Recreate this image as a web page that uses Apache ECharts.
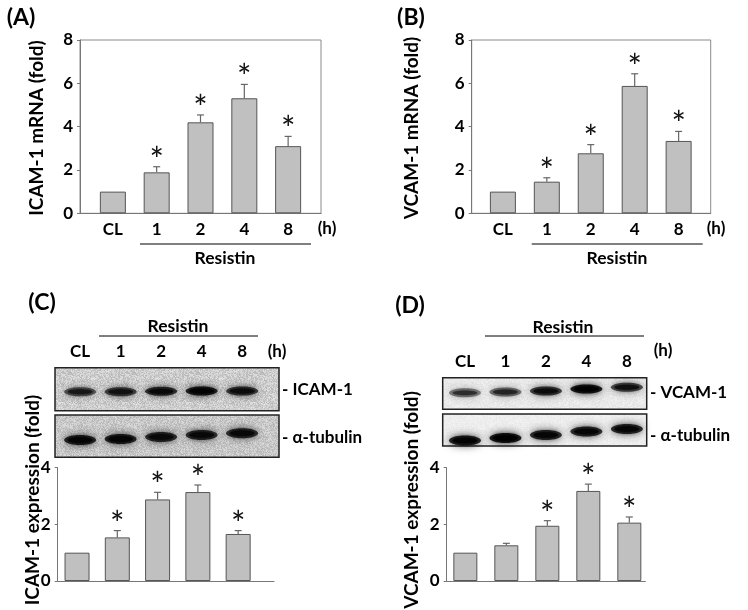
<!DOCTYPE html>
<html><head><meta charset="utf-8">
<script src="https://cdn.jsdelivr.net/npm/echarts@6/dist/echarts.min.js"></script>
<style>html,body{margin:0;padding:0;background:#fff}#c{width:748px;height:610px}</style>
</head><body><div id="c"></div>
<script>
// ---------- data ----------
const categories = ['CL', '1', '2', '4', '8'];
const mrnaTicks = [0, 2, 4, 6, 8];
const protTicks = [0, 2, 4];
const icamMrna = [1, 1.89, 4.2, 5.31, 3.1];
const icamMrnaErr = [0, 0.26, 0.34, 0.64, 0.45];
const vcamMrna = [1, 1.46, 2.77, 5.88, 3.34];
const vcamMrnaErr = [0, 0.18, 0.4, 0.56, 0.44];
const icamProt = [1, 1.54, 2.88, 3.14, 1.66];
const icamProtErr = [0, 0.24, 0.25, 0.25, 0.12];
const vcamProt = [1, 1.26, 1.95, 3.18, 2.06];
const vcamProtErr = [0, 0.07, 0.18, 0.24, 0.2];
const sigA = [0, 1, 1, 1, 1];
const sigB = [0, 1, 1, 1, 1];
const sigC = [0, 1, 1, 1, 1];
const sigD = [0, 0, 1, 1, 1];
const bandIcam = [0.6, 0.72, 0.85, 0.95, 0.78];
const bandTubC = [0.92, 0.92, 0.85, 0.85, 0.85];
const bandVcam = [0.4, 0.48, 0.78, 1.0, 0.72];
const bandTubD = [0.95, 1.0, 0.88, 0.88, 0.9];

// ---------- style ----------
const FONT = 'Lato, "DejaVu Sans", sans-serif';
const AXC = '#777';
const chart = echarts.init(document.getElementById('c'), null, {renderer: 'canvas'});

// deterministic grain texture for film background
function grain(base, amp) {
  const cv = document.createElement('canvas');
  cv.width = 64; cv.height = 64;
  const ctx = cv.getContext('2d');
  const img = ctx.createImageData(64, 64);
  let s = 12345;
  for (let k = 0; k < 64 * 64; k++) {
    s = (s * 1103515245 + 12345) & 0x7fffffff;
    const g = base + ((s >> 8) % (2 * amp + 1)) - amp;
    img.data[4 * k] = g; img.data[4 * k + 1] = g; img.data[4 * k + 2] = g; img.data[4 * k + 3] = 255;
  }
  ctx.putImageData(img, 0, 0);
  return {image: cv, repeat: 'repeat'};
}

const grids = [
  {left: 80, top: 40, width: 241, height: 173.3, show: true, borderColor: '#8a8a8a', borderWidth: 1},
  {left: 471.7, top: 40, width: 239, height: 173.3, show: true, borderColor: '#8a8a8a', borderWidth: 1},
  {left: 57.7, top: 467.7, width: 216.3, height: 113.3},
  {left: 446.7, top: 467.7, width: 198.6, height: 113.3},
  {left: 55, top: 367.7, width: 224, height: 43, show: true, backgroundColor: grain(205, 22), borderColor: '#222', borderWidth: 1.5},
  {left: 55, top: 415, width: 224, height: 42.3, show: true, backgroundColor: grain(200, 20), borderColor: '#222', borderWidth: 1.5},
  {left: 442.7, top: 377.7, width: 204, height: 31.6, show: true, backgroundColor: grain(234, 8), borderColor: '#222', borderWidth: 1.5},
  {left: 442.7, top: 414, width: 204, height: 32, show: true, backgroundColor: grain(238, 6), borderColor: '#222', borderWidth: 1.5}
];

function barX(gi, min, max, showLabels) {
  return {
    type: 'value', gridIndex: gi, min: min, max: max,
    axisLine: {show: true, onZero: false, lineStyle: {color: AXC, width: 1}},
    axisTick: {show: false}, splitLine: {show: false},
    axisLabel: showLabels ? {
      show: true, customValues: [0, 1, 2, 3, 4], margin: 8,
      formatter: v => categories[Math.round(v)],
      fontFamily: FONT, fontWeight: 'bold', fontSize: 17, color: '#000'
    } : {show: false}
  };
}
function barY(gi, ticks) {
  return {
    type: 'value', gridIndex: gi, min: ticks[0], max: ticks[ticks.length - 1],
    interval: ticks[1] - ticks[0],
    axisLine: {show: true, onZero: false, lineStyle: {color: AXC, width: 1}},
    axisTick: {show: true, length: 3, inside: false, lineStyle: {color: AXC}},
    splitLine: {show: false},
    axisLabel: {margin: 7, fontFamily: FONT, fontWeight: 'bold', fontSize: 17, color: '#000'}
  };
}
function blotX(gi, min, max, topLabels) {
  return {
    type: 'value', gridIndex: gi, min: min, max: max, position: 'top',
    axisLine: {show: false, onZero: false}, axisTick: {show: false}, splitLine: {show: false},
    axisLabel: topLabels ? {
      show: true, customValues: [0, 1, 2, 3, 4], margin: 8,
      formatter: v => categories[Math.round(v)],
      fontFamily: FONT, fontWeight: 'bold', fontSize: 17, color: '#000'
    } : {show: false}
  };
}
function blotY(gi) {
  return {type: 'value', gridIndex: gi, min: 0, max: 1, show: false, axisLine: {onZero: false}};
}

const xAxes = [
  barX(0, -0.75, 4.75, true), barX(1, -0.71, 4.73, true),
  barX(2, -0.48, 4.89, false), barX(3, -0.455, 4.39, false),
  blotX(4, -0.62, 4.91, true), blotX(5, -0.62, 4.91, false),
  blotX(6, -0.55, 4.49, true), blotX(7, -0.55, 4.49, false)
];
const yAxes = [
  barY(0, mrnaTicks), barY(1, mrnaTicks), barY(2, protTicks), barY(3, protTicks),
  blotY(4), blotY(5), blotY(6), blotY(7)
];

function bars(gi, vals, w) {
  return {
    type: 'bar', xAxisIndex: gi, yAxisIndex: gi, barWidth: w,
    data: vals.map((v, i) => [i, v]),
    itemStyle: {color: '#c0c0c0', borderColor: '#555', borderWidth: 1},
    silent: true, z: 2
  };
}
function errs(gi, vals, e, sig, gap) {
  return {
    type: 'custom', xAxisIndex: gi, yAxisIndex: gi, z: 3, silent: true,
    data: vals.map((v, i) => [i, v, e[i], sig[i]]),
    renderItem: (params, api) => {
      const x = api.value(0), v = api.value(1), er = api.value(2), s = api.value(3);
      const p0 = api.coord([x, v]);
      const p1 = api.coord([x, v + er]);
      const ch = [];
      if (er > 0) {
        ch.push({type: 'line', shape: {x1: p0[0], y1: p0[1], x2: p1[0], y2: p1[1]}, style: {stroke: '#666', lineWidth: 1.2}});
        ch.push({type: 'line', shape: {x1: p1[0] - 3.5, y1: p1[1], x2: p1[0] + 3.5, y2: p1[1]}, style: {stroke: '#666', lineWidth: 1.2}});
      }
      if (s) {
        ch.push({type: 'text', style: {text: '*', x: p1[0], y: p1[1] - gap, align: 'center', verticalAlign: 'middle',
          fontFamily: FONT, fontSize: 34, fontWeight: 'normal', fill: '#111'}});
      }
      return {type: 'group', children: ch};
    }
  };
}
function blot(gi, dens, ys, rx, ry) {
  return {
    type: 'custom', xAxisIndex: gi, yAxisIndex: gi, z: 3, silent: true,
    data: dens.map((d, i) => [i, d]),
    renderItem: (params, api) => {
      const i = api.value(0), d = api.value(1);
      const p = api.coord([i, ys[i]]);
      const c = Math.round(50 * (1 - d));
      const a = (0.25 + 0.6 * d);
      const col = 'rgba(' + c + ',' + c + ',' + c + ',' + a.toFixed(2) + ')';
      const col2 = 'rgba(' + c + ',' + c + ',' + c + ',' + Math.min(1, a + 0.25).toFixed(2) + ')';
      return {type: 'group', children: [
        {type: 'ellipse', shape: {cx: p[0], cy: p[1], rx: rx, ry: ry}, style: {fill: col, shadowBlur: 9, shadowColor: col}},
        {type: 'ellipse', shape: {cx: p[0], cy: p[1], rx: rx * 0.78, ry: ry * 0.55}, style: {fill: col2, shadowBlur: 4, shadowColor: col2}}
      ]};
    }
  };
}

const series = [
  bars(0, icamMrna, 26), errs(0, icamMrna, icamMrnaErr, sigA, 6),
  bars(1, vcamMrna, 26), errs(1, vcamMrna, vcamMrnaErr, sigB, 6),
  bars(2, icamProt, 25), errs(2, icamProt, icamProtErr, sigC, 6),
  bars(3, vcamProt, 24), errs(3, vcamProt, vcamProtErr, sigD, 6),
  blot(4, bandIcam, [0.44, 0.44, 0.45, 0.46, 0.46], 16, 4.5),
  blot(5, bandTubC, [0.41, 0.43, 0.48, 0.53, 0.57], 16, 5),
  blot(6, bandVcam, [0.52, 0.55, 0.58, 0.64, 0.70], 16, 4.5),
  blot(7, bandTubD, [0.17, 0.25, 0.34, 0.45, 0.53], 16, 5)
];

function txt(x, y, s, size) {
  return {type: 'text', x: x, y: y, style: {text: s, align: 'center', verticalAlign: 'middle',
    fontFamily: FONT, fontWeight: 'bold', fontSize: size, fill: '#000'}};
}
function vtxt(x, y, s) {
  return {type: 'text', x: x, y: y, rotation: Math.PI / 2, style: {text: s, align: 'center', verticalAlign: 'middle',
    fontFamily: FONT, fontWeight: 'bold', fontSize: 19, fill: '#000'}};
}
function hline(x1, x2, y) {
  return {type: 'line', shape: {x1: x1, y1: y, x2: x2, y2: y}, style: {stroke: '#000', lineWidth: 1}};
}
function ltxt(x, y, s) {
  return {type: 'text', x: x, y: y, style: {text: s, align: 'left', verticalAlign: 'middle',
    fontFamily: FONT, fontWeight: 'bold', fontSize: 17, fill: '#000'}};
}

const graphic = [
  txt(21, 18, '(A)', 23), txt(411, 18, '(B)', 23), txt(42, 303, '(C)', 23), txt(410, 306, '(D)', 23),
  vtxt(37, 128, 'ICAM-1 mRNA (fold)'), vtxt(412, 128, 'VCAM-1 mRNA (fold)'),
  vtxt(33, 500, 'ICAM-1 expression (fold)'), vtxt(412, 500, 'VCAM-1 expression (fold)'),
  txt(327, 229, '(h)', 17), txt(716, 229, '(h)', 17),
  hline(140, 311, 244), hline(531.7, 702.7, 244),
  txt(225, 258, 'Resistin', 17.5), txt(617, 258, 'Resistin', 17.5),
  txt(178, 326.7, 'Resistin', 17.5), hline(99, 258, 336), txt(277, 352, '(h)', 17),
  txt(563, 327.7, 'Resistin', 17.5), hline(485, 644, 336), txt(663, 351, '(h)', 17),
  ltxt(282, 390, '- ICAM-1'), ltxt(282, 438, '- \u03b1-tubulin'),
  ltxt(650, 393, '- VCAM-1'), ltxt(650, 436, '- \u03b1-tubulin')
];

chart.setOption({
  animation: false,
  backgroundColor: '#fff',
  grid: grids, xAxis: xAxes, yAxis: yAxes, series: series, graphic: graphic
});
</script></body></html>
